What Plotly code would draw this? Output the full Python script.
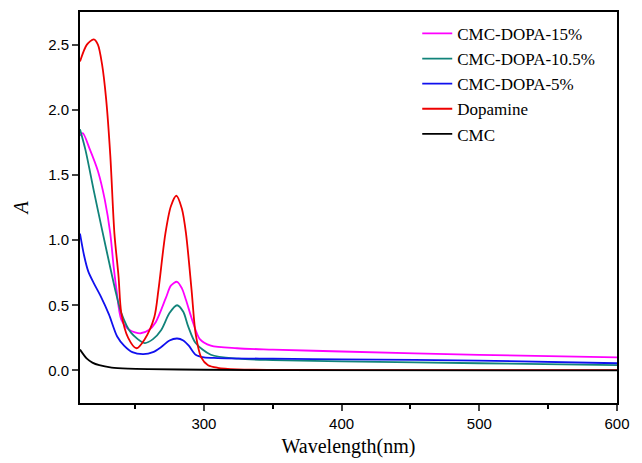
import plotly.graph_objects as go

# ---- data ----
dopa_x = [210, 215, 220, 223, 226, 229, 232, 235, 238, 240, 245, 251, 257, 264, 267, 272, 276, 280, 284, 287, 291, 294, 298, 303, 310, 324, 350, 400, 500, 600]
dopa_y = [2.37, 2.50, 2.54, 2.50, 2.35, 2.08, 1.65, 1.05, 0.72, 0.44, 0.25, 0.17, 0.24, 0.41, 0.62, 1.05, 1.26, 1.34, 1.24, 1.05, 0.62, 0.28, 0.10, 0.04, 0.02, 0.008, 0.004, 0.003, 0.003, 0.003]

p15_x = [210, 212, 217, 223, 228, 232, 234.5, 236.5, 240, 246, 254, 260, 265, 272.5, 276, 280.5, 284, 287, 292, 297, 305, 324, 350, 400, 500, 600]
p15_y = [1.80, 1.82, 1.70, 1.53, 1.31, 1.05, 0.79, 0.62, 0.39, 0.31, 0.285, 0.31, 0.37, 0.56, 0.65, 0.68, 0.63, 0.54, 0.37, 0.24, 0.19, 0.17, 0.16, 0.145, 0.12, 0.10]

p105_x = [210, 214, 220, 226, 233, 236, 240, 247, 257, 263, 269, 275, 280.5, 285, 288.5, 294, 305, 325, 350, 400, 500, 600]
p105_y = [1.85, 1.69, 1.38, 1.08, 0.74, 0.60, 0.44, 0.29, 0.21, 0.24, 0.31, 0.44, 0.50, 0.45, 0.34, 0.21, 0.12, 0.09, 0.08, 0.07, 0.055, 0.04]

p5_x = [210, 213, 216, 220, 225, 231, 237, 242, 248, 256, 263, 269, 275, 280.5, 285, 289, 294, 300, 310, 350, 400, 500, 600]
p5_y = [1.05, 0.88, 0.76, 0.67, 0.57, 0.43, 0.26, 0.19, 0.14, 0.125, 0.14, 0.18, 0.23, 0.245, 0.23, 0.19, 0.12, 0.10, 0.095, 0.09, 0.085, 0.075, 0.055]

cmc_x = [210, 215, 219, 224, 233, 245, 260, 300, 350, 600]
cmc_y = [0.16, 0.09, 0.06, 0.04, 0.022, 0.014, 0.01, 0.005, 0.002, 0.0]

series = [
    ("CMC-DOPA-15%", p15_x, p15_y, "#ff00ff"),
    ("CMC-DOPA-10.5%", p105_x, p105_y, "#11837a"),
    ("CMC-DOPA-5%", p5_x, p5_y, "#1010ee"),
    ("Dopamine", dopa_x, dopa_y, "#ee0000"),
    ("CMC", cmc_x, cmc_y, "#000000"),
]

x_ticks = [300, 400, 500, 600]
y_ticks = [0.0, 0.5, 1.0, 1.5, 2.0, 2.5]

fig = go.Figure()
for name, xs, ys, col in series:
    fig.add_trace(go.Scatter(x=xs, y=ys, name=name, mode="lines",
                             line=dict(color=col, width=1.8, shape="spline", smoothing=0.8)))

fig.update_layout(
    width=642, height=463,
    margin=dict(l=80, r=25, t=12, b=60, autoexpand=False),
    paper_bgcolor="white", plot_bgcolor="white",
    showlegend=True,
    legend=dict(x=0.628, y=0.99, xanchor="left", yanchor="top",
                bgcolor="rgba(0,0,0,0)", borderwidth=0,
                font=dict(family="Liberation Serif", size=17, color="black"),
                itemwidth=30, tracegroupgap=0),
)
fig.update_xaxes(range=[210, 600], tickvals=x_ticks, ticks="outside", ticklen=6, tickwidth=1.5,
                 minor=dict(dtick=50, tick0=250, ticks="outside", ticklen=4, tickwidth=1.5, tickcolor="black"),
                 showline=True, linewidth=1.8, linecolor="black", mirror=True, showgrid=False, zeroline=False,
                 tickfont=dict(family="Liberation Sans", size=15, color="black"),
                 title=dict(text="Wavelength(nm)", font=dict(family="Liberation Serif", size=20, color="black"), standoff=8))
fig.update_yaxes(range=[-0.25, 2.75], tickvals=y_ticks, tickformat=".1f", ticks="outside", ticklen=6, tickwidth=1.5,
                 showline=True, linewidth=1.8, linecolor="black", mirror=True, showgrid=False, zeroline=False,
                 tickfont=dict(family="Liberation Sans", size=15, color="black"),
                 title=dict(text="<i>A</i>", font=dict(family="Liberation Serif", size=20, color="black", style="italic"), standoff=14))

fig.write_html("out.html", config={"displayModeBar": False},
               post_script="document.body.style.margin='0';document.body.style.overflow='hidden';")
